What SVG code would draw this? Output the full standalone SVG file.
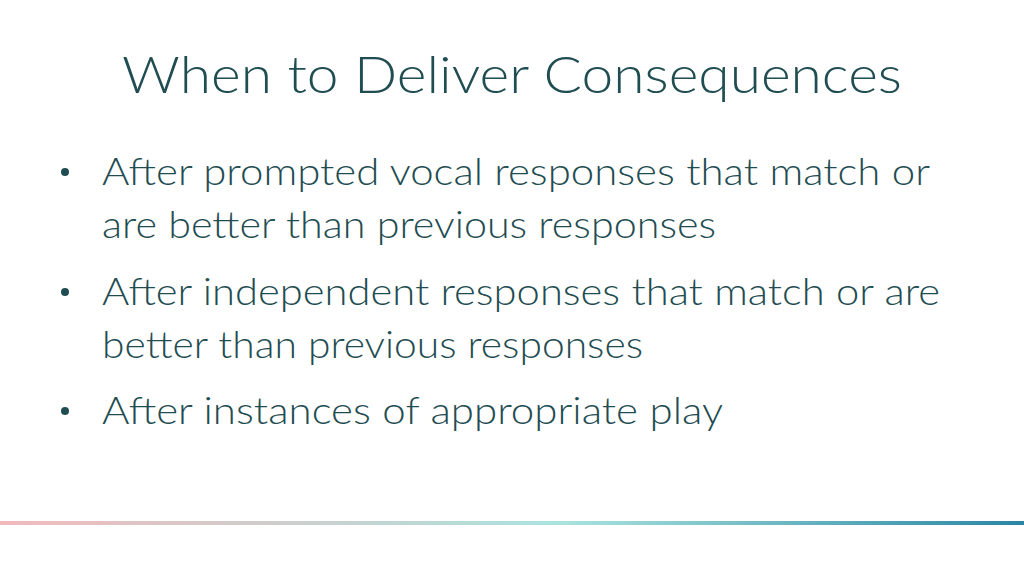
<svg xmlns="http://www.w3.org/2000/svg" width="1024" height="576" viewBox="0 0 1024 576">
<defs>
<linearGradient id="g" x1="0" x2="1" y1="0" y2="0">
<stop offset="0" stop-color="#f2b9bb"/>
<stop offset="0.55" stop-color="#a9e3df"/>
<stop offset="1" stop-color="#2a86a3"/>
</linearGradient>
<style>
.t{font-family:Lato,"Open Sans",sans-serif;font-weight:300;fill:#1f4d52}
.b{font-size:37px}
</style>
</defs>
<rect width="1024" height="576" fill="#ffffff"/>
<g id="title"><text class="t" x="122" y="93" font-size="52" textLength="780" lengthAdjust="spacingAndGlyphs">When to Deliver Consequences</text></g>
<g id="bullets">
<circle cx="65" cy="172" r="4" fill="#1f4d52"/>
<circle cx="65" cy="292" r="4" fill="#1f4d52"/>
<circle cx="65" cy="411" r="4" fill="#1f4d52"/>
<text class="t b" x="102" y="185" textLength="828" lengthAdjust="spacingAndGlyphs">After prompted vocal responses that match or</text>
<text class="t b" x="102" y="238" textLength="614" lengthAdjust="spacingAndGlyphs">are better than previous responses</text>
<text class="t b" x="102" y="305" textLength="838" lengthAdjust="spacingAndGlyphs">After independent responses that match or are</text>
<text class="t b" x="102" y="358" textLength="541" lengthAdjust="spacingAndGlyphs">better than previous responses</text>
<text class="t b" x="102" y="424" textLength="621" lengthAdjust="spacingAndGlyphs">After instances of appropriate play</text>
</g>
<rect x="0" y="521" width="1024" height="4" fill="url(#g)"/>
</svg>
